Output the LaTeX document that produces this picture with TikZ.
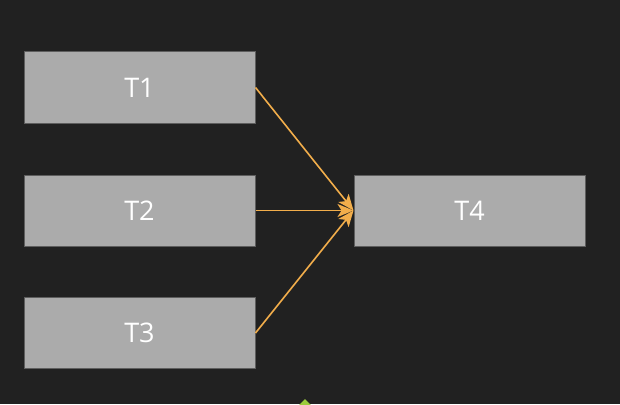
\documentclass[tikz,border=0pt]{standalone}
\usepackage{fontspec}
\setmainfont{Open Sans}
\usetikzlibrary{arrows.meta,positioning}
\definecolor{bgdark}{HTML}{212121}
\definecolor{boxfill}{HTML}{ABABAB}
\definecolor{boxline}{HTML}{5E5E5E}
\definecolor{linkorange}{HTML}{F2AE4B}
\definecolor{markgreen}{HTML}{9CCC3C}

\begin{document}
\begin{tikzpicture}[x=1pt, y=-1pt,
    task/.style={draw=boxline, line width=1pt, fill=boxfill, minimum width=231pt, minimum height=71pt, inner sep=0pt, text=white, font=\fontsize{27}{29}\selectfont},
    link/.style={draw=linkorange, line width=1.6pt, -{Stealth[length=16pt, width=13pt, inset=4pt]}}]
    \fill[bgdark] (0,0) rectangle (620,404);
    \useasboundingbox (0,0) rectangle (620,404);

    % tasks
    \node[task] (t1) at (139.5, 87.5) {T1};
    \node[task] (t2) at (139.5, 210.5) {T2};
    \node[task] (t3) at (139.5, 333) {T3};
    \node[task] (t4) at (469.5, 210.5) {T4};

    % dependencies
    \draw[link] (t1.east) -- (t4.west);
    \draw[link] (t2.east) -- (t4.west);
    \draw[link] (t3.east) -- (t4.west);

    % marker cut off at the bottom edge
    \begin{scope}
        \clip (0,0) rectangle (620,404);
        \fill[markgreen] (305,399) -- (311,405) -- (305,411) -- (299,405) -- cycle;
    \end{scope}
\end{tikzpicture}
\end{document}
